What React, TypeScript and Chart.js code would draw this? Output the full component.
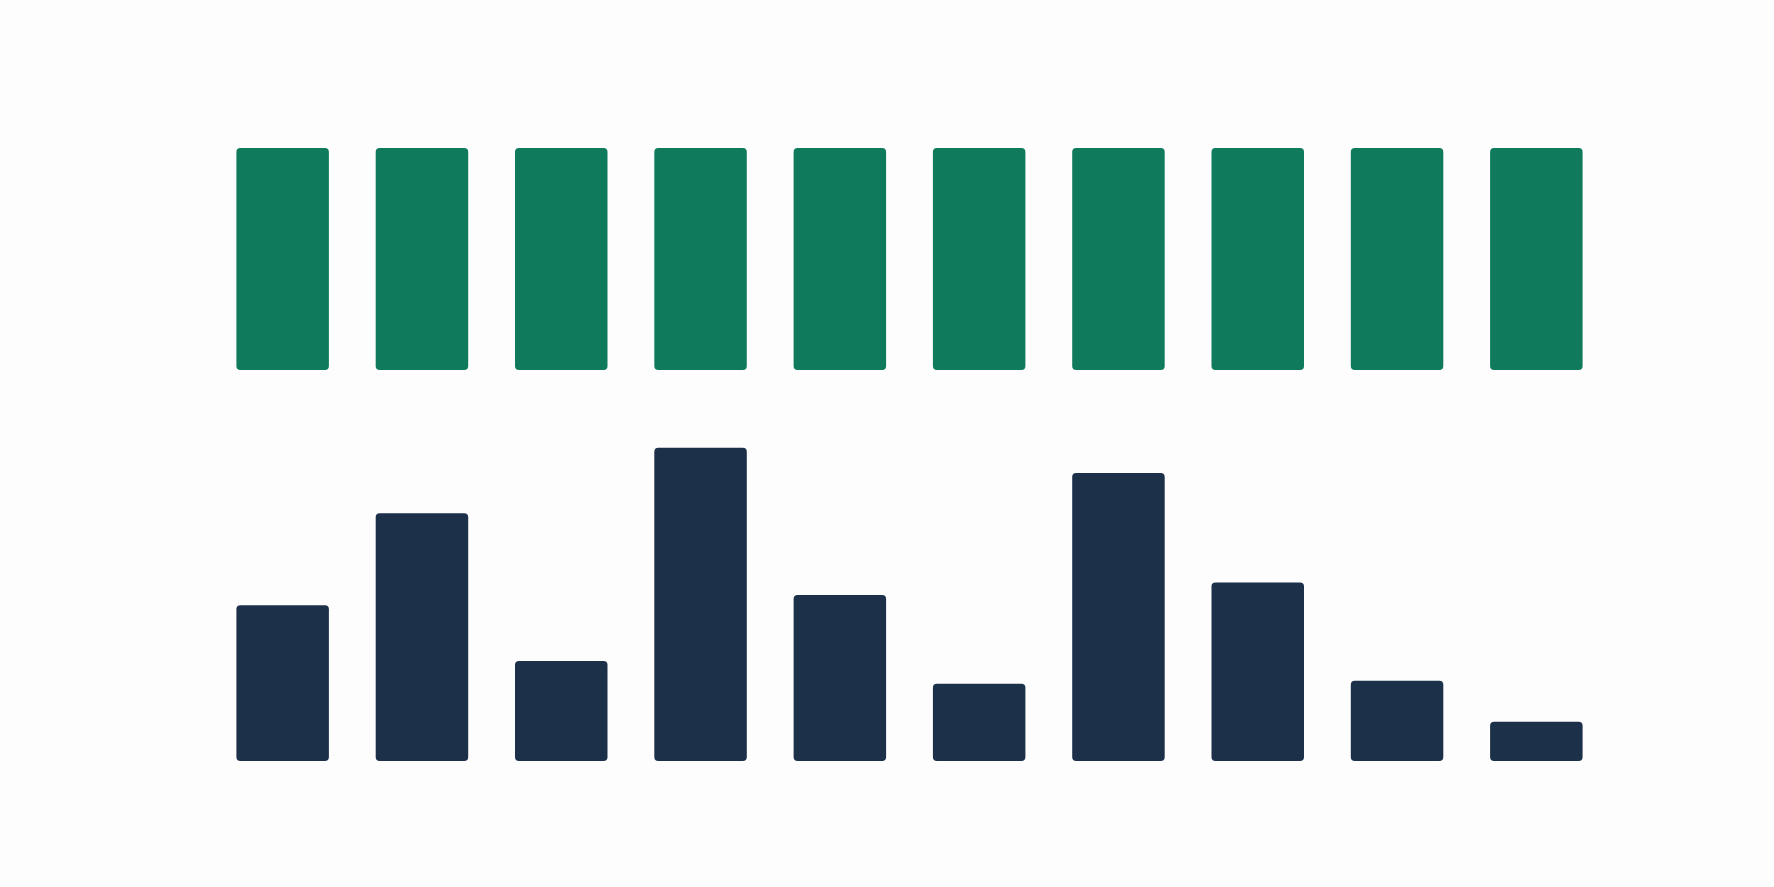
import React, { useEffect, useRef } from "react";
import { Chart, registerables } from "chart.js";

Chart.register(...registerables);

const categories = ["1", "2", "3", "4", "5", "6", "7", "8", "9", "10"];
const upperLow = [63.8, 63.8, 63.8, 63.8, 63.8, 63.8, 63.8, 63.8, 63.8, 63.8];
const upperHigh = [100, 100, 100, 100, 100, 100, 100, 100, 100, 100];
const lowerValues = [25.4, 40.4, 16.3, 51.1, 27.1, 12.6, 47.0, 29.1, 13.1, 6.4];

const GREEN = "rgb(15,123,92)";
const NAVY = "rgb(29,48,73)";

export default function App() {
  const ref = useRef<HTMLCanvasElement | null>(null);
  useEffect(() => {
    document.body.style.margin = "0";
    const ctx = ref.current;
    if (!ctx) return;
    const chart = new Chart(ctx, {
      type: "bar",
      data: {
        labels: categories,
        datasets: [
          {
            label: "upper",
            data: categories.map((_, i) => [upperLow[i], upperHigh[i]]) as any,
            backgroundColor: GREEN,
            borderRadius: 4,
            borderSkipped: false,
            borderWidth: 0,
          },
          {
            label: "lower",
            data: lowerValues,
            backgroundColor: NAVY,
            borderRadius: 4,
            borderSkipped: false,
            borderWidth: 0,
          },
        ],
      },
      options: {
        animation: false,
        responsive: false,
        maintainAspectRatio: false,
        layout: { padding: { left: 213, right: 168, top: 148, bottom: 126 } },
        datasets: { bar: { grouped: false, barPercentage: 0.664, categoryPercentage: 1 } } as any,
        plugins: { legend: { display: false }, tooltip: { enabled: false }, title: { display: false } },
        scales: {
          x: { display: false },
          y: { display: false, min: 0, max: 100 },
        },
      },
    });
    return () => chart.destroy();
  }, []);
  return (
    <div style={{ position: "fixed", left: 0, top: 0, width: 1774, height: 887, background: "#fdfdfd" }}>
      <canvas ref={ref} width={1774} height={887} style={{ display: "block" }} />
    </div>
  );
}
